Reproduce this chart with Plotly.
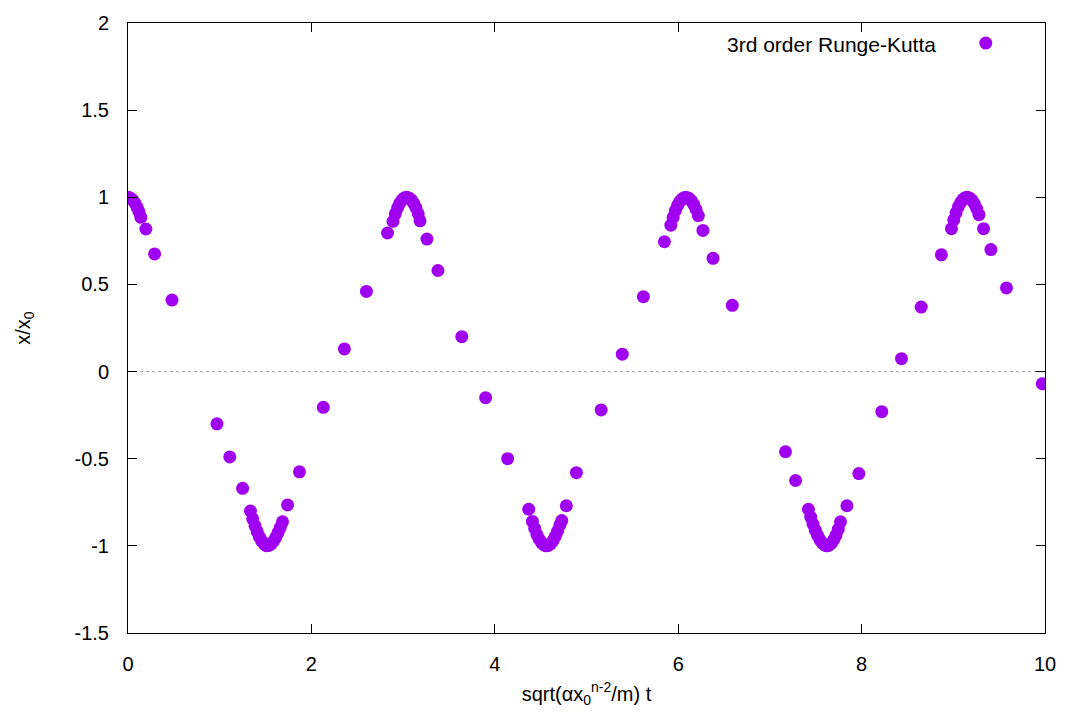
import plotly.graph_objects as go

# time values (sqrt(alpha x0^(n-2)/m) t)
t_values = [
    0.0, 0.025, 0.05, 0.075, 0.1, 0.12, 0.14, 0.195, 0.29, 0.48,
    0.97, 1.11, 1.25,
    1.335, 1.36, 1.385, 1.41, 1.435, 1.46, 1.485, 1.51, 1.535, 1.56, 1.585, 1.61, 1.635, 1.66, 1.685,
    1.74, 1.87, 2.13, 2.36, 2.60, 2.83,
    2.89, 2.915, 2.94, 2.965, 2.99, 3.015, 3.04, 3.065, 3.09, 3.115, 3.14, 3.165, 3.185,
    3.26, 3.38, 3.64, 3.90, 4.14,
    4.37, 4.41, 4.435, 4.46, 4.485, 4.51, 4.535, 4.56, 4.585, 4.61, 4.635, 4.66, 4.685, 4.71, 4.73,
    4.78, 4.89, 5.16, 5.39, 5.62, 5.85,
    5.92, 5.945, 5.97, 5.995, 6.02, 6.045, 6.07, 6.095, 6.12, 6.145, 6.17, 6.195, 6.22,
    6.27, 6.38, 6.59, 7.17, 7.28,
    7.42, 7.445, 7.47, 7.495, 7.52, 7.545, 7.57, 7.595, 7.62, 7.645, 7.67, 7.695, 7.72, 7.745, 7.77,
    7.84, 7.97, 8.22, 8.435, 8.65, 8.87,
    8.98, 9.005, 9.03, 9.055, 9.08, 9.105, 9.13, 9.155, 9.18, 9.205, 9.23, 9.255, 9.28,
    9.33, 9.41, 9.58, 9.97,
]

# position values x/x0
x_values = [
    1.0, 0.996, 0.985, 0.967, 0.942, 0.916, 0.885, 0.818, 0.675, 0.41,
    -0.30, -0.49, -0.67,
    -0.80, -0.845, -0.885, -0.92, -0.95, -0.973, -0.99, -0.999, -0.998, -0.99, -0.975, -0.953, -0.925, -0.895, -0.862,
    -0.765, -0.575, -0.205, 0.13, 0.46, 0.795,
    0.862, 0.905, 0.94, 0.967, 0.986, 0.997, 1.0, 0.996, 0.985, 0.966, 0.94, 0.905, 0.865,
    0.76, 0.58, 0.20, -0.15, -0.50,
    -0.79, -0.86, -0.90, -0.935, -0.962, -0.982, -0.995, -1.0, -0.998, -0.988, -0.97, -0.945, -0.915, -0.88, -0.855,
    -0.77, -0.58, -0.22, 0.10, 0.43, 0.745,
    0.84, 0.885, 0.925, 0.955, 0.977, 0.992, 0.999, 0.999, 0.993, 0.979, 0.958, 0.93, 0.895,
    0.81, 0.65, 0.38, -0.46, -0.625,
    -0.79, -0.835, -0.875, -0.91, -0.94, -0.965, -0.983, -0.995, -1.0, -0.996, -0.985, -0.966, -0.94, -0.905, -0.862,
    -0.77, -0.585, -0.23, 0.074, 0.37, 0.67,
    0.82, 0.87, 0.91, 0.945, 0.97, 0.988, 0.998, 1.0, 0.995, 0.982, 0.962, 0.935, 0.90,
    0.82, 0.70, 0.48, -0.07,
]

series_name = "3rd order Runge-Kutta"
x_ticks = [0, 2, 4, 6, 8, 10]
y_ticks = [-1.5, -1, -0.5, 0, 0.5, 1, 1.5, 2]
y_tick_labels = ["-1.5", "-1", "-0.5", "0", "0.5", "1", "1.5", "2"]

COLOR = "#a000f0"
FONT = "Liberation Sans, Arial, sans-serif"
FS = 20

fig = go.Figure()
fig.add_trace(go.Scatter(
    x=t_values, y=x_values, mode="markers", name=series_name,
    marker=dict(color=COLOR, size=13, line=dict(width=0)),
    showlegend=False,
))
# legend key (symbol only; label drawn as text to its left, gnuplot style)
fig.add_trace(go.Scatter(
    x=[None], y=[None], mode="markers", name=" ",
    marker=dict(color=COLOR, size=13, line=dict(width=0)),
    showlegend=True,
))

fig.update_layout(
    width=1068, height=726,
    margin=dict(l=128, r=21, t=19, b=93),
    paper_bgcolor="white", plot_bgcolor="white",
    font=dict(family=FONT, size=FS, color="black"),
    legend=dict(x=0.9136, y=0.997, xanchor="left", yanchor="top",
                bgcolor="rgba(0,0,0,0)", font=dict(size=18),
                itemwidth=30, tracegroupgap=0),
    annotations=[dict(
        text=series_name, xref="paper", yref="paper",
        x=0.8835, y=0.964, xanchor="right", yanchor="middle",
        showarrow=False, font=dict(size=21, family=FONT, color="black"),
    )],
    shapes=[dict(type="line", xref="paper", yref="y", x0=0, x1=1, y0=0, y1=0,
                 line=dict(color="#a0a0a0", width=1, dash="dot"), layer="below")],
)

fig.update_xaxes(
    range=[0, 10], tickvals=x_ticks, ticktext=[str(v) for v in x_ticks],
    showgrid=False, zeroline=False,
    showline=True, linecolor="black", linewidth=1, mirror="ticks",
    ticks="inside", ticklen=9, tickcolor="black", tickwidth=1,
    ticklabelstandoff=13,
    title=dict(text="sqrt(αx<sub>0</sub><sup>n-2</sup>/m) t", standoff=12,
               font=dict(size=FS)),
)
fig.update_yaxes(
    range=[-1.5, 2], tickvals=y_ticks, ticktext=y_tick_labels,
    showgrid=False, zeroline=False,
    showline=True, linecolor="black", linewidth=1, mirror="ticks",
    ticks="inside", ticklen=9, tickcolor="black", tickwidth=1,
    ticklabelstandoff=14,
    title=dict(text="x/x<sub>0</sub>", standoff=38, font=dict(size=FS)),
)

fig.write_html("out.html")
